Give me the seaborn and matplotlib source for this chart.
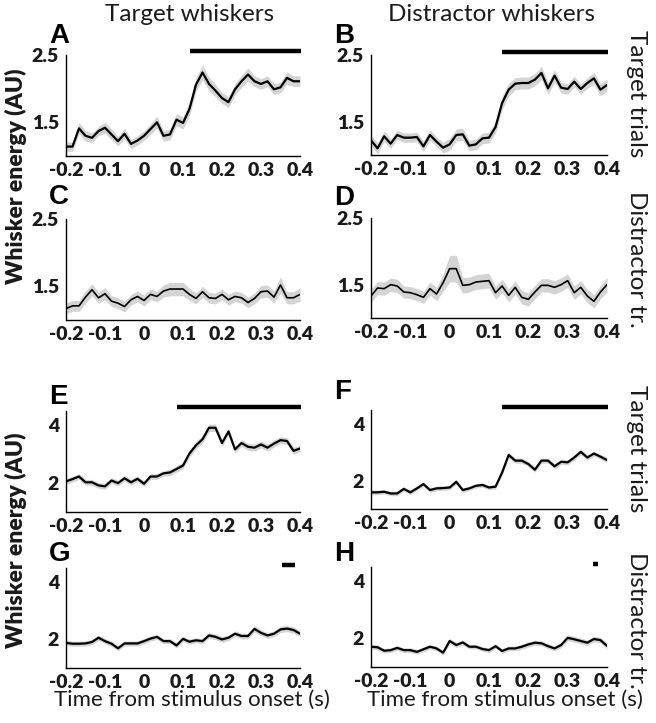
import numpy as np
import pandas as pd
import seaborn as sns
import matplotlib.pyplot as plt
from matplotlib.transforms import blended_transform_factory

sns.set_theme(style="white")
plt.rcParams['font.family'] = ['Lato', 'DejaVu Sans']

# ---------------- data ----------------
time = np.linspace(-0.2, 0.4, 37)

xtick_vals = [-0.2, -0.1, 0.0, 0.1, 0.2, 0.3, 0.4]
xtick_labels = ['-0.2', '-0.1', '0', '0.1', '0.2', '0.3', '0.4']
ytick_vals_top = [1.5, 2.0, 2.5]
ytick_labels_top = ['1.5', '', '2.5']
ytick_vals_bot = [2, 3, 4]
ytick_labels_bot = ['2', '', '4']

col_titles = ['Target whiskers', 'Distractor whiskers']
row_titles = ['Target trials', 'Distractor tr.', 'Target trials', 'Distractor tr.']
y_label = 'Whisker energy (AU)'
x_label = 'Time from stimulus onset (s)'
panel_letters = ['A', 'B', 'C', 'D', 'E', 'F', 'G', 'H']

mean_A = [1.14, 1.14, 1.41, 1.30, 1.27, 1.37, 1.42, 1.32, 1.22, 1.33, 1.18, 1.23, 1.30,
          1.40, 1.50, 1.30, 1.32, 1.54, 1.49, 1.70, 2.06, 2.24, 2.07, 1.97, 1.86, 1.80,
          1.99, 2.11, 2.21, 2.11, 2.07, 2.11, 1.99, 2.02, 2.16, 2.11, 2.11]
sem_A = [0.07, 0.07, 0.08, 0.08, 0.07, 0.07, 0.08, 0.08, 0.07, 0.08, 0.07, 0.07, 0.07,
         0.08, 0.09, 0.08, 0.08, 0.09, 0.09, 0.10, 0.10, 0.11, 0.10, 0.09, 0.08, 0.08,
         0.08, 0.09, 0.10, 0.08, 0.08, 0.08, 0.08, 0.08, 0.09, 0.08, 0.08]

mean_B = [1.22, 1.10, 1.28, 1.17, 1.30, 1.26, 1.26, 1.27, 1.13, 1.30, 1.20, 1.11, 1.16,
          1.30, 1.31, 1.14, 1.16, 1.25, 1.26, 1.42, 1.78, 1.98, 2.07, 2.08, 2.08, 2.13,
          2.23, 2.00, 2.19, 2.01, 1.99, 2.10, 1.99, 2.08, 2.15, 1.98, 2.05]
sem_B = [0.08, 0.08, 0.08, 0.07, 0.07, 0.07, 0.07, 0.07, 0.08, 0.08, 0.07, 0.08, 0.09,
         0.09, 0.09, 0.08, 0.08, 0.08, 0.08, 0.09, 0.10, 0.10, 0.09, 0.09, 0.09, 0.09,
         0.10, 0.09, 0.09, 0.08, 0.08, 0.08, 0.08, 0.08, 0.09, 0.09, 0.09]

mean_C = [1.17, 1.21, 1.21, 1.34, 1.45, 1.33, 1.39, 1.28, 1.25, 1.20, 1.30, 1.35, 1.29,
          1.38, 1.35, 1.43, 1.46, 1.46, 1.46, 1.38, 1.32, 1.42, 1.33, 1.32, 1.38, 1.30,
          1.35, 1.33, 1.26, 1.32, 1.42, 1.43, 1.34, 1.52, 1.33, 1.33, 1.38]
sem_C = [0.08, 0.08, 0.08, 0.09, 0.09, 0.08, 0.09, 0.08, 0.08, 0.08, 0.08, 0.08, 0.08,
         0.08, 0.08, 0.09, 0.10, 0.10, 0.10, 0.09, 0.08, 0.08, 0.08, 0.08, 0.08, 0.08,
         0.08, 0.08, 0.08, 0.08, 0.09, 0.09, 0.09, 0.12, 0.09, 0.09, 0.10]

mean_D = [1.33, 1.45, 1.44, 1.50, 1.48, 1.39, 1.38, 1.35, 1.31, 1.44, 1.36, 1.53, 1.74,
          1.74, 1.49, 1.50, 1.54, 1.55, 1.56, 1.38, 1.48, 1.34, 1.46, 1.31, 1.28, 1.39,
          1.49, 1.49, 1.46, 1.50, 1.56, 1.38, 1.46, 1.33, 1.25, 1.39, 1.50]
sem_D = [0.10, 0.10, 0.10, 0.10, 0.10, 0.09, 0.09, 0.09, 0.09, 0.10, 0.10, 0.13, 0.20,
         0.20, 0.12, 0.11, 0.11, 0.11, 0.11, 0.10, 0.10, 0.10, 0.10, 0.10, 0.10, 0.10,
         0.10, 0.10, 0.10, 0.10, 0.10, 0.10, 0.10, 0.10, 0.10, 0.10, 0.11]

mean_E = [2.06, 2.14, 2.23, 2.03, 2.03, 1.92, 1.89, 2.09, 2.00, 2.17, 2.03, 2.15, 1.98,
          2.23, 2.23, 2.34, 2.37, 2.49, 2.61, 3.03, 3.31, 3.52, 3.92, 3.92, 3.39, 3.79,
          3.17, 3.39, 3.26, 3.23, 3.34, 3.23, 3.37, 3.49, 3.46, 3.12, 3.20]
sem_E = [0.10, 0.10, 0.10, 0.10, 0.10, 0.10, 0.10, 0.10, 0.10, 0.10, 0.10, 0.10, 0.10,
         0.10, 0.10, 0.10, 0.11, 0.11, 0.12, 0.12, 0.13, 0.13, 0.13, 0.13, 0.12, 0.12,
         0.12, 0.12, 0.12, 0.12, 0.12, 0.12, 0.12, 0.12, 0.12, 0.12, 0.12]

mean_F = [1.59, 1.59, 1.61, 1.55, 1.55, 1.71, 1.59, 1.73, 1.88, 1.67, 1.73, 1.74, 1.76,
          1.96, 1.67, 1.73, 1.82, 1.85, 1.76, 1.79, 2.29, 2.91, 2.71, 2.71, 2.59, 2.39,
          2.71, 2.71, 2.51, 2.67, 2.65, 2.82, 3.02, 2.82, 2.96, 2.85, 2.73]
sem_F = [0.08, 0.08, 0.08, 0.08, 0.08, 0.08, 0.08, 0.08, 0.08, 0.08, 0.08, 0.08, 0.08,
         0.09, 0.08, 0.08, 0.08, 0.08, 0.08, 0.08, 0.09, 0.10, 0.09, 0.09, 0.09, 0.09,
         0.09, 0.09, 0.09, 0.09, 0.09, 0.09, 0.10, 0.09, 0.09, 0.09, 0.09]

mean_G = [1.88, 1.85, 1.85, 1.86, 1.91, 2.06, 1.94, 1.85, 1.69, 1.86, 1.86, 1.86, 1.94,
          2.03, 2.09, 1.94, 1.94, 1.79, 2.02, 1.92, 1.97, 1.94, 2.14, 2.09, 2.00, 2.06,
          2.20, 2.12, 2.12, 2.37, 2.23, 2.14, 2.20, 2.35, 2.38, 2.33, 2.20]
sem_G = [0.09, 0.09, 0.09, 0.09, 0.09, 0.09, 0.09, 0.09, 0.09, 0.09, 0.09, 0.09, 0.09,
         0.09, 0.09, 0.09, 0.09, 0.09, 0.09, 0.09, 0.09, 0.09, 0.10, 0.10, 0.10, 0.10,
         0.10, 0.10, 0.10, 0.11, 0.10, 0.10, 0.10, 0.11, 0.11, 0.11, 0.10]

mean_H = [1.71, 1.69, 1.57, 1.59, 1.67, 1.59, 1.59, 1.53, 1.62, 1.71, 1.65, 1.50, 1.91,
          1.77, 1.86, 1.71, 1.71, 1.63, 1.59, 1.73, 1.56, 1.65, 1.65, 1.71, 1.79, 1.85,
          1.83, 1.73, 1.65, 1.77, 2.02, 1.97, 1.91, 1.85, 1.98, 1.94, 1.74]
sem_H = [0.09, 0.09, 0.08, 0.08, 0.08, 0.08, 0.08, 0.08, 0.08, 0.08, 0.08, 0.08, 0.10,
         0.09, 0.09, 0.08, 0.08, 0.08, 0.08, 0.08, 0.08, 0.08, 0.08, 0.09, 0.09, 0.09,
         0.09, 0.09, 0.09, 0.09, 0.10, 0.10, 0.10, 0.10, 0.10, 0.10, 0.10]

# significance bars (start, end) in seconds
sig_A = (0.118, 0.402)
sig_B = (0.133, 0.402)
sig_C = None
sig_D = None
sig_E = (0.085, 0.402)
sig_F = (0.133, 0.402)
sig_G = (0.355, 0.387)
sig_H = (0.364, 0.376)

means = [mean_A, mean_B, mean_C, mean_D, mean_E, mean_F, mean_G, mean_H]
sems = [sem_A, sem_B, sem_C, sem_D, sem_E, sem_F, sem_G, sem_H]
sigs = [sig_A, sig_B, sig_C, sig_D, sig_E, sig_F, sig_G, sig_H]

# ---------------- layout (pixels) ----------------
W, H = 656, 723
boxes = [(66, 55, 300, 156), (371, 55, 607, 155),
         (66, 219, 300, 320), (371, 218, 607, 318),
         (66, 411, 300, 512), (371, 410, 607, 509),
         (66, 568, 300, 668), (371, 567, 607, 667)]
# left x, baseline y of panel letters
letter_pos = [(49, 43), (334, 43), (49, 204), (334, 205),
              (49, 404), (334, 399), (49, 561), (334, 561)]

fig = plt.figure(figsize=(W / 100, H / 100), dpi=100)
fig.patch.set_facecolor('white')

band_color = '#d4d4d4'
txt_color = '#1a1a1a'

for i, (box, mu, se, sig) in enumerate(zip(boxes, means, sems, sigs)):
    l, t, r, b = box
    ax = fig.add_axes([l / W, 1 - b / H, (r - l) / W, (b - t) / H])
    mu = np.asarray(mu)
    se = np.asarray(se)
    df = pd.DataFrame({'time': time, 'energy': mu})
    ax.fill_between(time, mu - se, mu + se, color=band_color, lw=0, zorder=1)
    lw = 1.6 if i in (0, 1, 4, 5, 6, 7) else 1.2
    sns.lineplot(data=df, x='time', y='energy', ax=ax, color='black', lw=lw, zorder=3)
    ax.set_xlim(-0.2, 0.4)
    if i < 4:
        ax.set_ylim(1.0, 2.5)
        ax.set_yticks(ytick_vals_top)
        ax.set_yticklabels(ytick_labels_top)
    else:
        ax.set_ylim(1.0, 4.5)
        ax.set_yticks(ytick_vals_bot)
        ax.set_yticklabels(ytick_labels_bot)
    ax.set_xticks(xtick_vals)
    ax.set_xticklabels(xtick_labels)
    ax.set_xlabel('')
    ax.set_ylabel('')
    for s in ['top', 'right']:
        ax.spines[s].set_visible(False)
    for s in ['left', 'bottom']:
        ax.spines[s].set_color('black')
        ax.spines[s].set_linewidth(1.0)
    ax.tick_params(direction='in', length=3.5, width=1, colors='black',
                   labelsize=14, pad=4, labelcolor=txt_color)
    ax.tick_params(axis='y', pad=5)
    for lab in ax.get_xticklabels() + ax.get_yticklabels():
        lab.set_fontweight('heavy')
    ax.set_facecolor('white')
    if sig is not None:
        tr = blended_transform_factory(ax.transData, ax.transAxes)
        ax.plot([sig[0], sig[1]], [1.035, 1.035], transform=tr, color='black',
                lw=3.2, clip_on=False, solid_capstyle='butt')
    lx, ly = letter_pos[i]
    fig.text(lx / W, 1 - ly / H, panel_letters[i], fontsize=20, fontweight='bold',
             family=['Liberation Sans', 'DejaVu Sans'], va='baseline', ha='left', color='black')

# column titles
fig.text(190 / W, 1 - 21 / H, col_titles[0], fontsize=17.5, ha='center', va='baseline', color=txt_color)
fig.text(492 / W, 1 - 21 / H, col_titles[1], fontsize=17.5, ha='center', va='baseline', color=txt_color)

# row titles (right side)
for yc, txt in zip([94, 259, 449, 620], row_titles):
    fig.text(636 / W, 1 - yc / H, txt, fontsize=17.5, rotation=270, ha='center', va='center', color=txt_color)

# y labels
for yc in [176, 540]:
    fig.text(16 / W, 1 - yc / H, y_label, fontsize=16.5, fontweight='heavy', rotation=90,
             ha='center', va='center', color=txt_color)

# x labels
for xc in [192, 505]:
    fig.text(xc / W, 1 - 706 / H, x_label, fontsize=16, ha='center', va='baseline', color=txt_color)

fig.savefig('out.png', dpi=100, facecolor='white')
